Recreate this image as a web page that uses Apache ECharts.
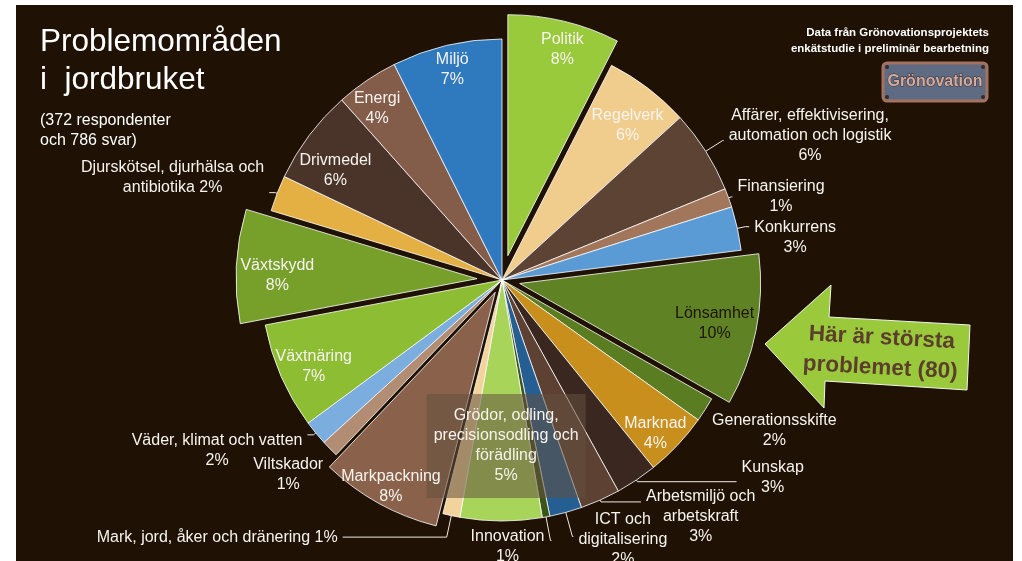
<!DOCTYPE html>
<html><head><meta charset="utf-8">
<script src="https://cdn.jsdelivr.net/npm/echarts@6/dist/echarts.min.js"></script>
<style>
html,body{margin:0;padding:0;background:#ffffff;}
#bg{position:absolute;left:16px;top:5px;width:997px;height:556px;background:#1f1205;}
#c{position:absolute;left:0;top:0;width:1022px;height:561px;}
</style>
</head><body><div id="bg"></div><div id="c"></div>
<script>
// ---------- data ----------
const categories = [
  'Politik', 'Regelverk', 'Affärer, effektivisering,\nautomation och logistik', 'Finansiering', 'Konkurrens',
  'Lönsamhet', 'Generationsskifte', 'Marknad', 'Kunskap', 'Arbetsmiljö och\narbetskraft',
  'ICT och\ndigitalisering', 'Innovation', 'Grödor, odling,\nprecisionsodling och\nförädling',
  'Mark, jord, åker och dränering', 'Markpackning', 'Viltskador', 'Väder, klimat och vatten',
  'Växtnäring', 'Växtskydd', 'Djurskötsel, djurhälsa och\nantibiotika', 'Drivmedel', 'Energi', 'Miljö'
];
const answers = [59, 45, 44, 10, 23, 80, 13, 34, 22, 21, 17, 4, 43, 9, 64, 9, 13, 56, 60, 19, 50, 33, 58];
const titleText = 'Problemområden\ni  jordbruket';
const subtitleText = '(372 respondenter\noch 786 svar)';
const sourceText = 'Data från Grönovationsprojektets\nenkätstudie i preliminär bearbetning';
const logoText = 'Grönovation';
const calloutText = 'Här är största\nproblemet (80)';

// ---------- styles ----------
const colors = ['#99ca3c', '#f0cd8c', '#5c4334', '#a2765a', '#5b9bd5', '#5f8224', '#5a7d22', '#c98f1d',
  '#3a2820', '#5d4234', '#245e92', '#3b5517', '#a8d45a', '#f2d39b', '#8a624b', '#b28d73', '#7badde',
  '#8dbd33', '#77a02a', '#e4b043', '#4a3429', '#835d49', '#2f79be'];
const explode = {0: 25, 5: 18, 14: 14, 18: 25};
const sameLinePct = new Set([13, 19]);
const darkLabel = new Set([5]);
const outsideCfg = {
  2: {len: 20, len2: 1, pad: [0, 0, 9, 0]},
  3: {len: 3, len2: 1, pad: [0, 0, 0, 0]},
  4: {len: 8, len2: 4, pad: [22, 0, 0, 0]},
  6: {len: 1, len2: 1, pad: [40, 0, 0, 0], noLine: true},
  8: {len: 2, len2: 99, pad: [0, 0, 9, 0]},
  9: {len: 2, len2: 40, pad: [30, 0, 0, 0]},
  10: {len: 25, len2: 1, pad: [7, 0, 0, 0]},
  11: {len: 24, len2: 1, pad: [13, 0, 0, 0], flip: true},
  13: {len: 22, len2: 104, pad: [0, 0, 0, 0]},
  15: {len: 1, len2: 1, pad: [50, 0, 0, 0], noLine: true},
  16: {len: 3, len2: 6, pad: [32, 0, 0, 0]},
  19: {len: 2, len2: 6, pad: [0, 0, 31, 0]}
};
const insideShift = {0: [5, 0], 1: [-3, 14], 5: [-13, -1], 7: [-1, 8], 12: [5, -46], 14: [-2, 9],
  17: [6, 2], 18: [12, 8], 20: [3, 18], 21: [-6, 4], 22: [-1, -4]};

const FONT = '"Liberation Sans", Arial, sans-serif';
const TXT = '#f7f3ee';
const CENTER = [502, 280];
const R = 241;

function fmt(p) {
  const pct = Math.round(p.percent) + '%';
  const t = p.name + (sameLinePct.has(p.dataIndex) ? ' ' : '\n') + pct;
  return t.split('\n').map(l => '{c|' + l + '}').join('\n');
}
const rich = {c: {align: 'center', fontSize: 16, lineHeight: 20, fontFamily: FONT}};

const chart = echarts.init(document.getElementById('c'), null, {renderer: 'canvas'});
const groups = [0, 14, 18, 25];
const fillSeries = [];
const labelSeries = [];
groups.forEach(g => {
  const inGroup = i => (explode[i] || 0) === g;
  fillSeries.push({
    type: 'pie', z: 2, center: CENTER, radius: [0, R], startAngle: 90, clockwise: true,
    avoidLabelOverlap: false, selectedMode: 'multiple', selectedOffset: g, silent: true,
    itemStyle: {borderColor: '#ffffff', borderWidth: 0.8},
    labelLayout: function (p) {
      const c = outsideCfg[p.dataIndex];
      if (c && c.flip) return {align: 'right', dx: -12};
      return {};
    },
    data: categories.map((n, i) => {
      const o = {name: n, value: answers[i], selected: g > 0 && inGroup(i)};
      const c = outsideCfg[i];
      if (!inGroup(i)) {
        o.itemStyle = {color: 'rgba(0,0,0,0)', borderWidth: 0};
        o.label = {show: false}; o.labelLine = {show: false};
        return o;
      }
      o.itemStyle = {color: colors[i]};
      if (c) {
        o.label = {show: true, position: 'outside', formatter: fmt, rich: rich, color: TXT,
          fontSize: 16, lineHeight: 20, fontFamily: FONT, padding: c.pad, distanceToLabelLine: 5,
          textBorderWidth: 0, overflow: 'none'};
        o.labelLine = {show: !c.noLine, length: c.len, length2: c.len2, smooth: false,
          lineStyle: {color: '#efe9e2', width: 1}};
      } else {
        o.label = {show: false}; o.labelLine = {show: false};
      }
      return o;
    })
  });
  labelSeries.push({
    type: 'pie', z: 6, center: CENTER, radius: [177, R], startAngle: 90, clockwise: true,
    avoidLabelOverlap: false, selectedMode: 'multiple', selectedOffset: g, silent: true,
    itemStyle: {color: 'rgba(0,0,0,0)', borderWidth: 0},
    labelLayout: function (p) {
      const s = insideShift[p.dataIndex];
      return s ? {dx: s[0], dy: s[1]} : {};
    },
    data: categories.map((n, i) => {
      const o = {name: n, value: answers[i], selected: g > 0 && inGroup(i),
        itemStyle: {color: 'rgba(0,0,0,0)', borderWidth: 0}, labelLine: {show: false}};
      if (inGroup(i) && !outsideCfg[i]) {
        o.label = {show: true, position: 'inside', formatter: fmt, rich: rich,
          color: darkLabel.has(i) ? '#1f1206' : TXT, fontSize: 16, lineHeight: 20, fontFamily: FONT,
          textBorderWidth: 0, overflow: 'none'};
        if (i === 12) {
          o.label.backgroundColor = 'rgba(100,80,62,0.55)';
          o.label.padding = [12, 7, 12, 7];
        }
      } else {
        o.label = {show: false};
      }
      return o;
    })
  });
});

chart.setOption({
  animation: false,
  backgroundColor: 'transparent',
  series: fillSeries.concat(labelSeries),
  graphic: {elements: [
    {type: 'text', x: 40, y: 23, silent: true,
      style: {text: titleText, fill: '#ffffff', font: '31.5px ' + FONT, lineHeight: 38, verticalAlign: 'top'}},
    {type: 'text', x: 40, y: 111, silent: true,
      style: {text: subtitleText, fill: '#ffffff', font: '16px ' + FONT, lineHeight: 19.5, verticalAlign: 'top'}},
    {type: 'text', x: 989, y: 25, silent: true,
      style: {text: sourceText, fill: '#ffffff', font: 'bold 11.5px ' + FONT, lineHeight: 16,
        align: 'right', verticalAlign: 'top'}},
    {type: 'rect', silent: true, shape: {x: 883, y: 63, width: 104, height: 38, r: 4},
      style: {fill: '#5f6b82', stroke: '#a4725f', lineWidth: 3}},
    {type: 'circle', silent: true, shape: {cx: 887, cy: 67, r: 2}, style: {fill: '#3a2a25'}},
    {type: 'circle', silent: true, shape: {cx: 983, cy: 67, r: 2}, style: {fill: '#3a2a25'}},
    {type: 'circle', silent: true, shape: {cx: 887, cy: 97, r: 2}, style: {fill: '#3a2a25'}},
    {type: 'circle', silent: true, shape: {cx: 983, cy: 97, r: 2}, style: {fill: '#3a2a25'}},
    {type: 'text', x: 935, y: 82, silent: true,
      style: {text: logoText, fill: '#d2ab9c', stroke: '#3b3035', lineWidth: 1,
        font: 'bold 16px ' + FONT, align: 'center', verticalAlign: 'middle'}},
    {type: 'polygon', silent: true,
      shape: {points: [[765, 344], [831, 285], [829, 317], [970, 325], [967, 390], [825, 381], [824, 408]]},
      style: {fill: '#9ac93b', stroke: '#f4f4ec', lineWidth: 1}},
    {type: 'text', x: 881, y: 353, rotation: -0.054, silent: true,
      style: {text: calloutText, fill: '#5b3f2c', font: 'bold 22.5px ' + FONT, lineHeight: 30,
        align: 'center', verticalAlign: 'middle'}}
  ]}
});
</script>
</body></html>
